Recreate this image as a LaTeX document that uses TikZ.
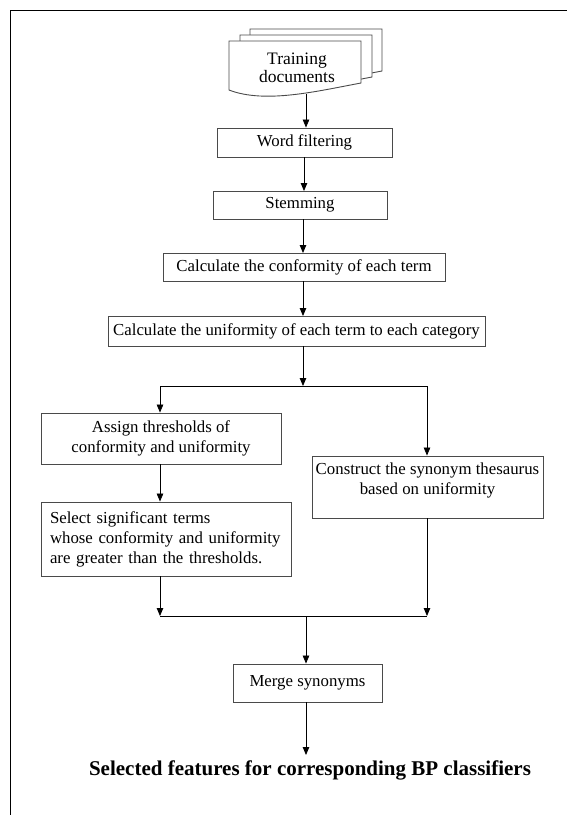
\documentclass[tikz,border=0pt]{standalone}
\usepackage{fontspec}
\setmainfont{Liberation Serif}
\usetikzlibrary{arrows.meta}
\definecolor{boxgray}{HTML}{4A4A4A}
\tikzset{
	box/.style={draw=boxgray,line width=0.9pt,fill=white,inner sep=2pt,align=center,
		font=\fontsize{16.8}{20}\selectfont},
	arr/.style={-{Triangle[length=8pt,width=6.5pt]},line width=0.8pt},
	link/.style={line width=0.8pt}
}
\begin{document}
\begin{tikzpicture}[x=1pt,y=-1pt]
	\useasboundingbox (0,0) rectangle (567,815);
	\draw[line width=1.6pt] (567,10.5) -- (10.5,10.5) -- (10.5,815);

	\foreach \dx/\dy in {21/-12,11/-6,0/0}
		\draw[boxgray,line width=0.9pt,fill=white,shift={(\dx,\dy)}]
			(229,90) -- (229,41) -- (361,41) -- (361,83)
			.. controls (318,91) and (265,104) .. (229,90) -- cycle;
	\node[font=\fontsize{17.5}{18}\selectfont,align=center] (docs) at (297,68) {Training\\documents};
	\coordinate (docbot) at (306,93.5);

	\node[box,minimum width=175pt,minimum height=29pt] (wf) at (304.5,142.5) {Word filtering};
	\node[box,minimum width=174pt,minimum height=28pt] (stem) at (300,205) {Stemming};
	\node[box,minimum width=282pt,minimum height=28pt] (conf) at (304,267) {Calculate the conformity of each term};
	\node[box,minimum width=377pt,minimum height=30pt] (unif) at (296.5,331) {Calculate the uniformity of each term to each category};
	\node[box,minimum width=240pt,minimum height=51pt] (thr) at (161,438.5) {Assign thresholds of\\conformity and uniformity};
	\node[box,minimum width=231pt,minimum height=62pt,
		label={[align=center,anchor=north,yshift=-4pt,font=\fontsize{16.8}{20}\selectfont]north:Construct the synonym thesaurus\\based on uniformity}] (syn) at (427.5,487) {};
	\node[box,align=left,text width=232pt,inner xsep=9pt,minimum height=74pt] (sel) at (166,539)
		{Select significant terms\\whose conformity and uniformity\\are greater than the thresholds.};
	\node[box,minimum width=149pt,minimum height=38pt] (merge) at (307.5,683) {Merge synonyms};
	\node[font=\fontsize{21}{24}\selectfont\bfseries] (out) at (310,770) {Selected features for corresponding BP classifiers};

	\coordinate (split) at (303,386);
	\coordinate (splitl) at (160,386);
	\coordinate (splitr) at (427,386);
	\coordinate (joinl) at (160,616);
	\coordinate (joinr) at (427,616);
	\coordinate (join) at (306,616);

	\draw[arr] (docbot) -- (docbot |- wf.north);
	\draw[arr] (304,157) -- (304,191);
	\draw[arr] (303,219) -- (303,253);
	\draw[arr] (303,281) -- (303,316);
	\draw[arr] (303,346) -- (split);
	\draw[link] (splitl) -- (splitr);
	\draw[arr] (splitl) -- (splitl |- thr.north);
	\draw[arr] (splitr) -- (splitr |- syn.north);
	\draw[arr] (thr.south -| splitl) -- (sel.north -| splitl);
	\draw[arr] (sel.south -| joinl) -- (joinl);
	\draw[arr] (syn.south -| joinr) -- (joinr);
	\draw[link] (joinl) -- (joinr);
	\draw[arr] (join) -- (merge.north -| join);
	\draw[arr] (merge.south -| join) -- (306,755);
\end{tikzpicture}
\end{document}
